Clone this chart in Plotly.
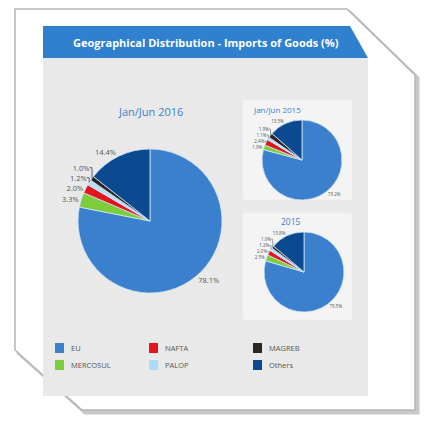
import plotly.graph_objects as go

W, H = 427, 428

regioes = ['EU', 'MERCOSUL', 'NAFTA', 'PALOP', 'MAGREB', 'Others']
cores = ['#3a80cc', '#7ccd3c', '#e3161d', '#b9e0f6', '#2b2623', '#0b4a90']

jan_jun_2016 = [78.1, 3.3, 2.0, 1.2, 1.0, 14.4]
jan_jun_2015 = [79.2, 1.9, 2.4, 1.1, 1.9, 13.5]
ano_2015 = [79.5, 2.5, 2.0, 1.2, 1.0, 13.8]

legenda_nomes = ['EU', 'NAFTA', 'MAGREB', 'MERCOSUL', 'PALOP', 'Others']
legenda_cores = ['#3a80cc', '#e3161d', '#2b2623', '#7ccd3c', '#a9dcf5', '#0b4a90']

titulo = 'Geographical Distribution - Imports of Goods (%)'
subtitulos = ['Jan/Jun 2016', 'Jan/Jun 2015', '2015']


def px_x(x):
    return x / W


def px_y(y):
    return 1 - y / H


def dominio(cx, cy, r):
    return dict(x=[px_x(cx - r), px_x(cx + r)], y=[px_y(cy + r), px_y(cy - r)])


def caminho(pontos, dx=0, dy=0):
    partes = [('M' if i == 0 else 'L') + f' {px_x(x + dx)},{px_y(y + dy)}' for i, (x, y) in enumerate(pontos)]
    return ' '.join(partes) + ' Z'


def pizza(valores, cx, cy, r, fonte):
    return go.Pie(labels=regioes, values=valores, sort=False,
                  direction='clockwise', rotation=0,
                  marker=dict(colors=cores, line=dict(color='#cfe5f6', width=0.8)),
                  texttemplate='%{value:.1f}%', textposition='outside',
                  textfont=dict(size=fonte, color='#555', family='Open Sans'),
                  domain=dominio(cx, cy, r), showlegend=False,
                  hoverinfo='label+value', automargin=False)


fig = go.Figure()
fig.add_trace(pizza(jan_jun_2016, 150, 221, 72, 7.5))
fig.add_trace(pizza(jan_jun_2015, 302, 160, 40, 4.5))
fig.add_trace(pizza(ano_2015, 304, 272, 40, 4.5))

shapes = []
# sombra e cartao
cartao = [(15, 9), (347, 9), (415, 75), (415, 410), (82, 410), (15, 350)]
shapes.append(dict(type='path', xref='paper', yref='paper', path=caminho(cartao, 3, 3),
                   fillcolor='#c8c8c8', line=dict(color='#c8c8c8', width=3), layer='below'))
shapes.append(dict(type='path', xref='paper', yref='paper', path=caminho(cartao),
                   fillcolor='white', line=dict(color='#b5b5b5', width=1.5), layer='below'))
# painel cinza
shapes.append(dict(type='path', xref='paper', yref='paper', layer='below',
                   path=caminho([(43, 58), (368, 58), (368, 396), (43, 396)]),
                   fillcolor='#e9e9e9', line=dict(width=0)))
# barra do titulo
shapes.append(dict(type='path', xref='paper', yref='paper', layer='below',
                   path=caminho([(43, 26), (350, 26), (368, 58), (43, 58)]),
                   fillcolor='#2f80cf', line=dict(width=0)))
# caixas dos graficos pequenos
for y0, y1 in [(100, 200), (213, 320)]:
    shapes.append(dict(type='rect', xref='paper', yref='paper', layer='below',
                       x0=px_x(243), x1=px_x(352), y0=px_y(y1), y1=px_y(y0),
                       fillcolor='#f4f4f4', line=dict(color='#efefef', width=1)))

annotations = [dict(text=f'<b>{titulo}</b>', x=px_x(206), y=px_y(43), xref='paper', yref='paper',
                    yanchor='middle', showarrow=False,
                    font=dict(size=11, color='white', family='Open Sans'))]
for texto, x, y, tam in [(subtitulos[0], 150, 111, 11), (subtitulos[1], 303, 110, 8), (subtitulos[2], 303, 221, 8.5)]:
    annotations.append(dict(text=texto, x=px_x(x), y=px_y(y), xref='paper', yref='paper',
                            yanchor='middle', showarrow=False,
                            font=dict(size=tam, color='#3a80cc', family='Open Sans')))

# legenda
colunas = [55, 149, 253]
linhas = [348, 365]
for i, (nome, cor) in enumerate(zip(legenda_nomes, legenda_cores)):
    x = colunas[i % 3]
    y = linhas[i // 3]
    shapes.append(dict(type='rect', xref='paper', yref='paper',
                       x0=px_x(x), x1=px_x(x + 9), y0=px_y(y + 5), y1=px_y(y - 5),
                       fillcolor=cor, line=dict(width=0)))
    annotations.append(dict(text=nome, x=px_x(x + 14), y=px_y(y), xref='paper', yref='paper',
                            xanchor='left', yanchor='middle', showarrow=False,
                            font=dict(size=7.5, color='#555', family='Open Sans')))

fig.update_layout(width=W, height=H, margin=dict(l=0, r=0, t=0, b=0),
                  paper_bgcolor='white', plot_bgcolor='white',
                  shapes=shapes, annotations=annotations)

fig.write_html('out.html', config={'displayModeBar': False},
               post_script="document.body.style.margin='0';document.body.style.overflow='hidden';")
